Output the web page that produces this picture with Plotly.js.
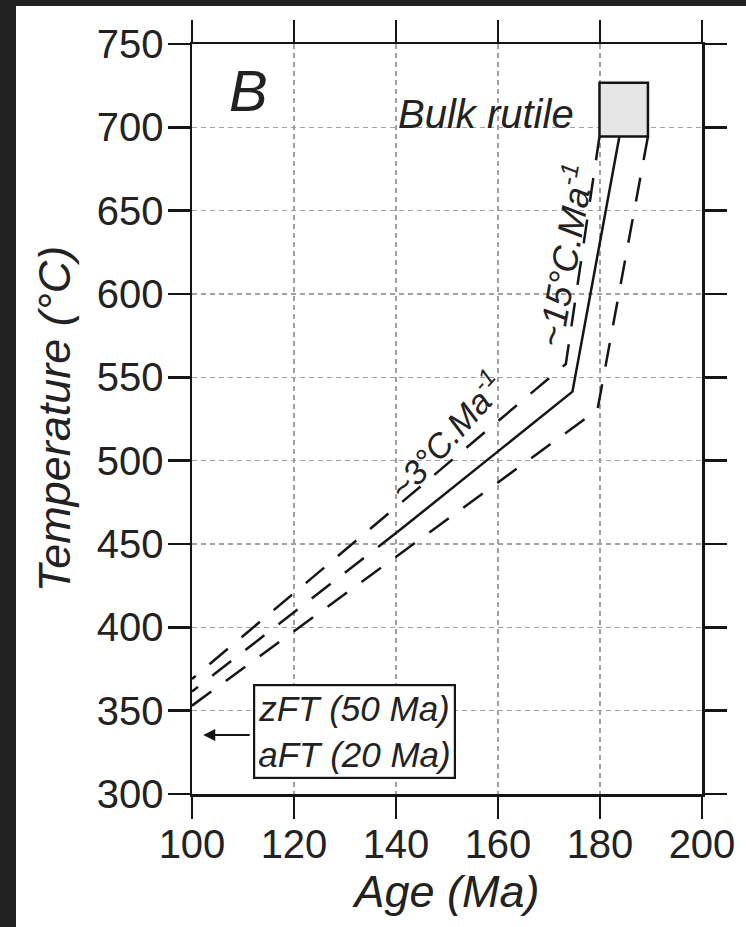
<!DOCTYPE html>
<html>
<head>
<meta charset="utf-8">
<script src="https://cdn.plot.ly/plotly-3.0.1.min.js"></script>
<style>
  html, body { margin:0; padding:0; background:#222222; width:746px; height:927px; overflow:hidden; }
  #chart { position:absolute; left:16px; top:6px; width:730px; height:921px; background:#ffffff; }
</style>
</head>
<body>
<div id="chart"></div>
<script>
// Bulk rutile box
const boxAge = [179.9, 189.4];
const boxTemp = [694.5, 726.8];
// Central cooling path (solid part)
const solidAge = [183.8, 174.6, 140.2];
const solidTemp = [694.5, 541.4, 457];
// Central path extrapolated (dashed)
const extAge = [140.2, 100];
const extTemp = [457, 361.5];
// Upper envelope (dashed)
const upperAge = [179.9, 173.3, 100];
const upperTemp = [694.5, 558, 369];
// Lower envelope (dashed)
const lowerAge = [189.4, 179.5, 100];
const lowerTemp = [694.5, 530.5, 353];
// Axis ticks
const xTicks = [100, 120, 140, 160, 180, 200];
const yTicks = [300, 350, 400, 450, 500, 550, 600, 650, 700, 750];

const ink = '#151515';
const txt = '#222222';
const dash = '24px,18px';
const F = 'Liberation Sans, Arial, sans-serif';

const traces = [
  {x:[boxAge[0], boxAge[1], boxAge[1], boxAge[0], boxAge[0]],
   y:[boxTemp[0], boxTemp[0], boxTemp[1], boxTemp[1], boxTemp[0]],
   mode:'lines', fill:'toself', fillcolor:'#e6e6e6', line:{color:ink, width:2.5}, hoverinfo:'skip'},
  {x:solidAge, y:solidTemp, mode:'lines', line:{color:ink, width:2.5}},
  {x:extAge, y:extTemp, mode:'lines', line:{color:ink, width:2.5, dash:dash}},
  {x:upperAge, y:upperTemp, mode:'lines', line:{color:ink, width:2.5, dash:dash}},
  {x:lowerAge, y:lowerTemp, mode:'lines', line:{color:ink, width:2.5, dash:dash}}
];

const axisCommon = {
  showline:true, linecolor:ink, linewidth:2.5, mirror:'ticks',
  ticks:'outside', ticklen:22, tickwidth:2.5, tickcolor:ink,
  showgrid:true, gridcolor:'#a0a0a0', gridwidth:1.3, griddash:'5px,4px',
  zeroline:false, tickfont:{family:F, size:40, color:txt}
};

const layout = {
  width:730, height:921,
  margin:{l:176, r:44, t:38, b:133},
  paper_bgcolor:'#ffffff', plot_bgcolor:'#ffffff',
  showlegend:false,
  xaxis: Object.assign({}, axisCommon, {
    range:[100, 200], tickvals:xTicks, ticktext:xTicks.map(String), ticklabelstandoff:-9,
    title:{text:'Age (Ma)', font:{family:F, size:45, color:txt, style:'italic'}, standoff:0}
  }),
  yaxis: Object.assign({}, axisCommon, {
    range:[300, 750], tickvals:yTicks, ticktext:yTicks.map(String), ticklabelstandoff:-4,
    title:{text:'Temperature (°C)', font:{family:F, size:45, color:txt, style:'italic'}, standoff:12}
  }),
  annotations:[
    {x:111, y:722.4, xref:'x', yref:'y', text:'B', showarrow:false,
     font:{family:F, size:58, color:txt, style:'italic'}},
    {x:175.3, y:708, xref:'x', yref:'y', text:'Bulk rutile', showarrow:false, xanchor:'right',
     font:{family:F, size:40, color:txt, style:'italic'}},
    {x:172.8, y:623.4, xref:'x', yref:'y', text:'~15°C.Ma<sup>-1</sup>', showarrow:false, textangle:-80,
     font:{family:F, size:36, color:txt, style:'italic'}},
    {x:149.6, y:516, xref:'x', yref:'y', text:'~3°C.Ma<sup>-1</sup>', showarrow:false, textangle:-48,
     font:{family:F, size:34, color:txt, style:'italic'}},
    {x:131.9, y:337.8, xref:'x', yref:'y', text:'zFT (50 Ma)<br>aFT (20 Ma)', showarrow:false,
     bordercolor:ink, borderwidth:2.2, borderpad:3, bgcolor:'#ffffff',
     font:{family:F, size:35, color:txt, style:'italic'}},
    {x:102.2, y:335.4, xref:'x', yref:'y', text:'', showarrow:true, axref:'pixel', ayref:'pixel',
     ax:48, ay:0, arrowhead:2, arrowsize:1.2, arrowwidth:2, arrowcolor:ink, standoff:0}
  ]
};

Plotly.newPlot('chart', traces, layout, {displayModeBar:false, staticPlot:true});
</script>
</body>
</html>
